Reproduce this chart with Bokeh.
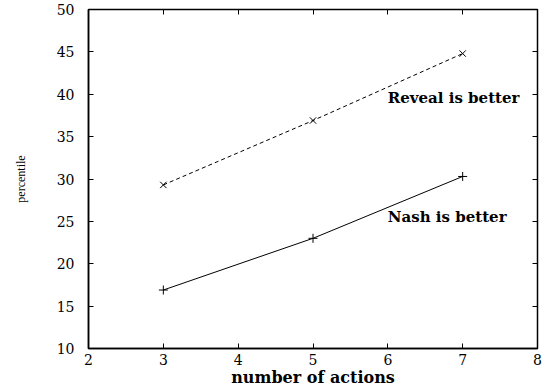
from bokeh.plotting import figure
from bokeh.models import LinearAxis, FixedTicker, Label, Range1d
from bokeh.embed import file_html
from bokeh.resources import INLINE

actions = [3, 5, 7]
reveal = [29.3, 36.9, 44.8]
nash = [16.9, 23.0, 30.3]
x_ticks = [2, 3, 4, 5, 6, 7, 8]
y_ticks = [10, 15, 20, 25, 30, 35, 40, 45, 50]

p = figure(frame_width=449, frame_height=339, output_backend="svg", toolbar_location=None,
           x_range=Range1d(2, 8), y_range=Range1d(10, 50),
           min_border_left=88, min_border_right=5, min_border_top=9, min_border_bottom=38,
           x_axis_label="number of actions", y_axis_label="percentile")
p.grid.visible = False
p.outline_line_color = "black"
p.outline_line_width = 1.5
p.background_fill_color = "white"
p.border_fill_color = "white"

for ax in p.xaxis:
    ax.ticker = FixedTicker(ticks=x_ticks)
for ax in p.yaxis:
    ax.ticker = FixedTicker(ticks=y_ticks)

def style(ax):
    ax.major_tick_in = 5
    ax.major_tick_out = 0
    ax.minor_tick_line_color = None
    ax.axis_line_color = "black"
    ax.axis_line_width = 1.5
    ax.major_tick_line_color = "black"
    ax.major_label_text_font = "DejaVu Serif"
    ax.major_label_text_font_size = "14px"
    ax.major_label_text_color = "black"
    ax.axis_label_text_color = "black"

for ax in p.xaxis + p.yaxis:
    style(ax)

p.xaxis.major_label_standoff = 5
p.xaxis.axis_label_standoff = 0
p.xaxis.axis_label_text_font = "DejaVu Serif"
p.xaxis.axis_label_text_font_size = "16px"
p.xaxis.axis_label_text_font_style = "bold"

p.yaxis.major_label_standoff = 14
p.yaxis.axis_label_standoff = 26
p.yaxis.axis_label_text_font = "Liberation Serif"
p.yaxis.axis_label_text_font_size = "12px"
p.yaxis.axis_label_text_font_style = "normal"

top = LinearAxis(ticker=FixedTicker(ticks=x_ticks))
right = LinearAxis(ticker=FixedTicker(ticks=y_ticks))
for ax in (top, right):
    style(ax)
    ax.major_label_text_font_size = "1px"
    ax.major_label_text_color = None
    ax.major_label_standoff = 0
    ax.axis_line_color = None
p.add_layout(top, "above")
p.add_layout(right, "right")

p.line(actions, reveal, line_color="black", line_width=1, line_dash="4 3")
p.scatter(actions, reveal, marker="x", size=9, line_color="black", line_width=1)
p.line(actions, nash, line_color="black", line_width=1)
p.scatter(actions, nash, marker="cross", size=9, line_color="black", line_width=1)

for txt, yy in (("Reveal is better", 39.5), ("Nash is better", 25.5)):
    p.add_layout(Label(x=6.0, y=yy, text=txt, text_font="DejaVu Serif", text_font_size="15px",
                       text_font_style="bold", text_baseline="middle", text_align="left",
                       text_color="black"))

open("out.html", "w").write(file_html(p, INLINE))
